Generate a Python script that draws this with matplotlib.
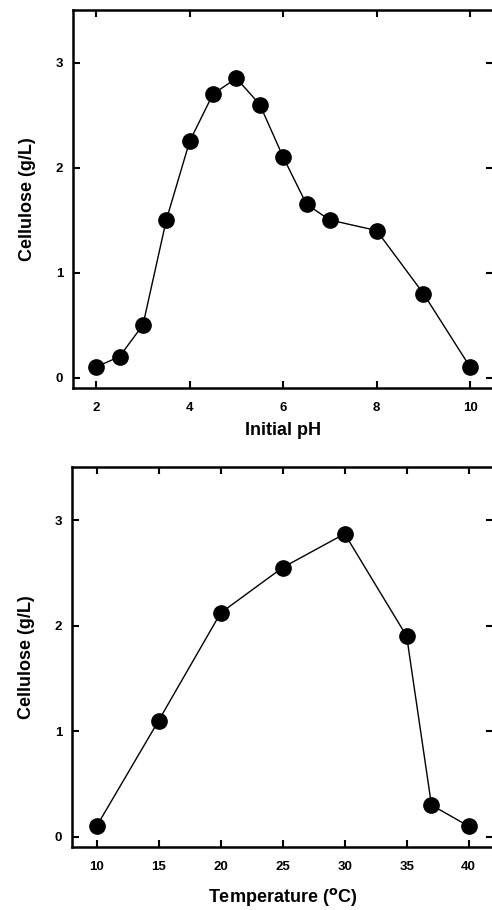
import numpy as np
import matplotlib
matplotlib.use("Agg")
import matplotlib.pyplot as plt

# initial pH experiment
ph = [2, 2.5, 3, 3.5, 4, 4.5, 5, 5.5, 6, 6.5, 7, 8, 9, 10]
cellulose_ph = [0.1, 0.2, 0.5, 1.5, 2.25, 2.7, 2.85, 2.6, 2.1, 1.65, 1.5, 1.4, 0.8, 0.1]

# temperature experiment
temp = [10, 15, 20, 25, 30, 35, 37, 40]
cellulose_temp = [0.1, 1.1, 2.12, 2.55, 2.87, 1.9, 0.3, 0.1]

ph_ticks = [2, 4, 6, 8, 10]
temp_ticks = [10, 15, 20, 25, 30, 35, 40]
y_ticks = [0, 1, 2, 3]

plt.rcParams['font.family'] = ['Liberation Sans', 'DejaVu Sans']
plt.rcParams['font.weight'] = 'bold'

fig = plt.figure(figsize=(4.92, 9.10), dpi=100)
ax1 = fig.add_axes([0.148, 0.5736, 0.855, 0.4154])
ax2 = fig.add_axes([0.146, 0.0689, 0.857, 0.4176])


def style(ax, xticks, xlabel, xpad):
    ax.set_xticks(xticks)
    ax.set_yticks(y_ticks)
    ax.set_ylim(-0.1, 3.5)
    ax.tick_params(direction='in', length=5, width=1.5, top=True, right=True,
                   labelsize=9.5)
    ax.tick_params(axis='x', pad=10)
    ax.tick_params(axis='y', pad=7)
    for s in ax.spines.values():
        s.set_linewidth(1.8)
    ax.set_xlabel(xlabel, fontsize=13, fontweight='bold', labelpad=xpad)
    ax.set_ylabel("Cellulose (g/L)", fontsize=13, fontweight='bold', labelpad=14)


ax1.plot(ph, cellulose_ph, color='black', lw=1, marker='o', ms=11)
ax1.set_xlim(1.5, 10.5)
style(ax1, ph_ticks, "Initial pH", 6)

ax2.plot(temp, cellulose_temp, color='black', lw=1, marker='o', ms=11)
ax2.set_xlim(8, 42)
style(ax2, temp_ticks, "Temperature ($^{\\mathbf{o}}$C)", 9)

fig.savefig("out.png", dpi=100)
